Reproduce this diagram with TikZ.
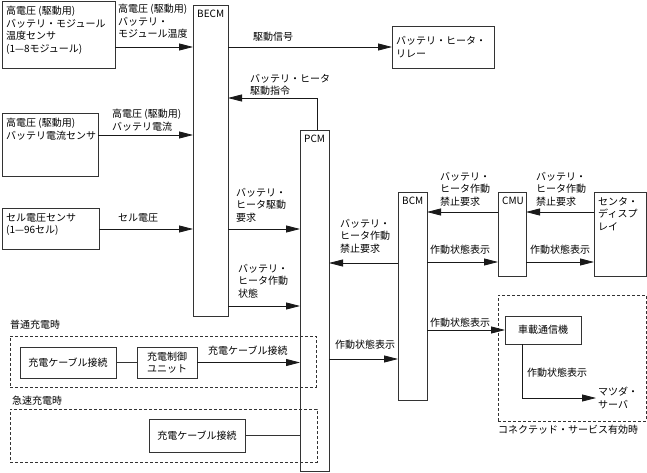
\documentclass[tikz,border=0pt]{standalone}
\usepackage{fontspec}
\setmainfont{Noto Sans CJK JP}
\usetikzlibrary{arrows.meta}
\begin{document}
\begin{tikzpicture}[x=1pt,y=-1pt,
txt/.style={font=\fontsize{10}{12.5}\selectfont,align=left,inner sep=2pt},
blk/.style={draw=black!80,line width=0.8pt,anchor=north west,inner sep=0pt,outer sep=0pt},
grp/.style={draw=black!80,line width=0.8pt,dash pattern=on 3pt off 2pt,anchor=north west,inner sep=0pt,outer sep=0pt},
arr/.style={draw=black!90,line width=0.8pt,-{Triangle[length=14pt,width=7pt]}},
ln/.style={draw=black!80,line width=0.8pt}]
\useasboundingbox(0,0)rectangle(647,473);
\foreach \nm/\x/\y/\w/\h in {gnorm/10/336/306/51,gquick/10/409/307/53,gconn/498/295/148/126}{\node[grp,minimum width=\w pt,minimum height=\h pt](\nm)at(\x,\y){};}
\foreach \nm/\x/\y/\w/\h/\lb in {btemp/2/1/113/67/{高電圧 (駆動用)\\バッテリ・モジュール\\温度センサ\\(1—8モジュール)},
bcur/2/113/96/63/{高電圧 (駆動用)\\バッテリ電流センサ},bcell/2/208/97/41/{セル電圧センサ\\(1—96セル)},
becm/193/5/35/311/{BECM},pcm/300/130/29/341/{PCM},bcm/398/192/29/208/{BCM},cmu/498/192/28/84/{CMU},
disp/594/192/52/84/{センタ・\\ディスプ\\レイ}}{\node[blk,minimum width=\w pt,minimum height=\h pt,label={[txt,anchor=north west,inner xsep=4pt,inner ysep=5pt]north west:\lb}](\nm)at(\x,\y){};}
\node[blk,txt,inner sep=0pt,minimum width=102pt,minimum height=42pt,text width=94pt](relay)at(392,26){バッテリ・ヒータ・\\リレー};
\foreach \nm/\x/\y/\w/\h/\lb in {tcu/505/316/76/28/{車載通信機},norm1/20/347/96/31/{充電ケーブル接続},
ctrl/137/347/60/31/{充電制御\\ユニット},quick/149/419/96/33/{充電ケーブル接続}}{\node[blk,txt,minimum width=\w pt,minimum height=\h pt](\nm)at(\x,\y){\lb};}
\node[txt,anchor=west](srv)at(596,398){マツダ・\\サーバ};
\foreach \nm/\x/\y/\lb in {t1/116/2/{高電圧 (駆動用)\\バッテリ・\\モジュール温度},t2/110/107/{高電圧 (駆動用)\\バッテリ電流},
t3/116/211/{セル電圧},t4/251/30/{駆動信号},t5/248/72/{バッテリ・ヒータ\\駆動指令},t6/234/186/{バッテリ・\\ヒータ駆動\\要求},
t7/236/262/{バッテリ・\\ヒータ作動\\状態},t8/438/170/{バッテリ・\\ヒータ作動\\禁止要求},t9/534/170/{バッテリ・\\ヒータ作動\\禁止要求},
t10/338/217/{バッテリ・\\ヒータ作動\\禁止要求},t11/428/243/{作動状態表示},t12/528/243/{作動状態表示},t13/333/338/{作動状態表示},
t14/428/316/{作動状態表示},t15/525/366/{作動状態表示},t16/206/344/{充電ケーブル接続},
g1/8/318/{普通充電時},g2/10/394/{急速充電時},g3/496/423/{コネクテッド・サービス有効時}}{\node[txt,anchor=north west](\nm)at(\x,\y){\lb};}
\draw[arr](btemp.east|-0,47)--(becm.west|-0,47);
\draw[arr](bcur.east|-0,135)--(becm.west|-0,135);
\draw[arr](bcell.east|-0,229)--(becm.west|-0,229);
\draw[arr](becm.east|-0,47)--(relay.west|-0,47);
\draw[arr](pcm.north-|317,0)|-(becm.east|-0,98);
\draw[arr](becm.east|-0,229)--(pcm.west|-0,229);
\draw[arr](becm.east|-0,306)--(pcm.west|-0,306);
\draw[arr](cmu.west|-0,212)--(bcm.east|-0,212);
\draw[arr](disp.west|-0,212)--(cmu.east|-0,212);
\draw[arr](bcm.west|-0,263)--(pcm.east|-0,263);
\draw[arr](bcm.east|-0,262)--(cmu.west|-0,262);
\draw[arr](cmu.east|-0,262)--(disp.west|-0,262);
\draw[arr](pcm.east|-0,359)--(bcm.west|-0,359);
\draw[arr](bcm.east|-tcu.west)--(tcu.west);
\draw[arr](tcu.south-|522,0)|-(srv.west);
\draw[ln](norm1.east)--(ctrl.west);
\draw[arr](ctrl.east)--(pcm.west|-ctrl.east);
\draw[ln](quick.east)--(pcm.west|-quick.east);
\end{tikzpicture}
\end{document}
